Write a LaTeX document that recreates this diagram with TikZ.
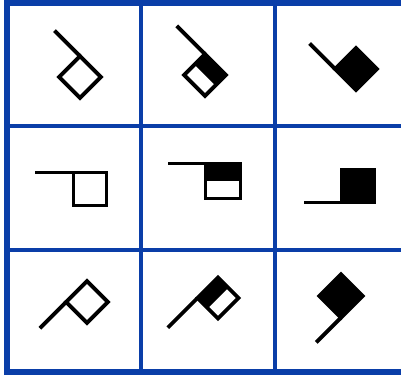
\documentclass[tikz,border=0pt]{standalone}
\definecolor{gridblue}{RGB}{10,62,168}
\begin{document}
\begin{tikzpicture}[
  x=0.75pt, y=-0.75pt,
  gridline/.style={gridblue, line width=3pt},
  frame/.style={gridblue, line width=4.5pt},
  sym/.style={black, line width=2.9pt, line join=miter},
]
  \useasboundingbox (0,0) rectangle (401,375);
  % grid
  \foreach \gx in {141,275}
    \draw[gridline] (\gx,0) -- (\gx,375);
  \foreach \gy in {126,250}
    \draw[gridline] (5,\gy) -- (410,\gy);
  \draw[frame] (7,-5) -- (7,380);
  \draw[frame] (5,3) -- (410,3);
  \draw[frame] (5,372) -- (410,372);

  % flag symbols: centre / rotation / half side / stem length / kind
  \foreach \cx/\cy/\rot/\s/\len/\k in {
      80/77/-45/14.8/36/0, 205/75/-45/14.8/40/1, 356/69/-45/14.8/36/2,
      90/189/0/16.5/39/0, 223/181/0/17.5/38/1, 358/186/0/16.5/38/2,
      87/302/45/14.8/37/0, 218/298/45/14.5/42/1, 341/296/45/15.3/35/2} {
    \begin{scope}[shift={(\cx,\cy)}, rotate=\rot]
      \ifcase\k
        \draw[sym] (-\s,-\s) rectangle (\s,\s);
        \draw[sym] (-\s,-\s) -- ++(-\len,0);
      \or
        \fill (-\s,-\s) rectangle (\s,0);
        \draw[sym] (-\s,-\s) rectangle (\s,\s);
        \draw[sym] (-\s,-\s) -- ++(-\len,0);
      \or
        \filldraw[sym] (-\s,-\s) rectangle (\s,\s);
        \draw[sym] (-\s,\s) -- ++(-\len,0);
      \fi
    \end{scope}
  }
\end{tikzpicture}
\end{document}
